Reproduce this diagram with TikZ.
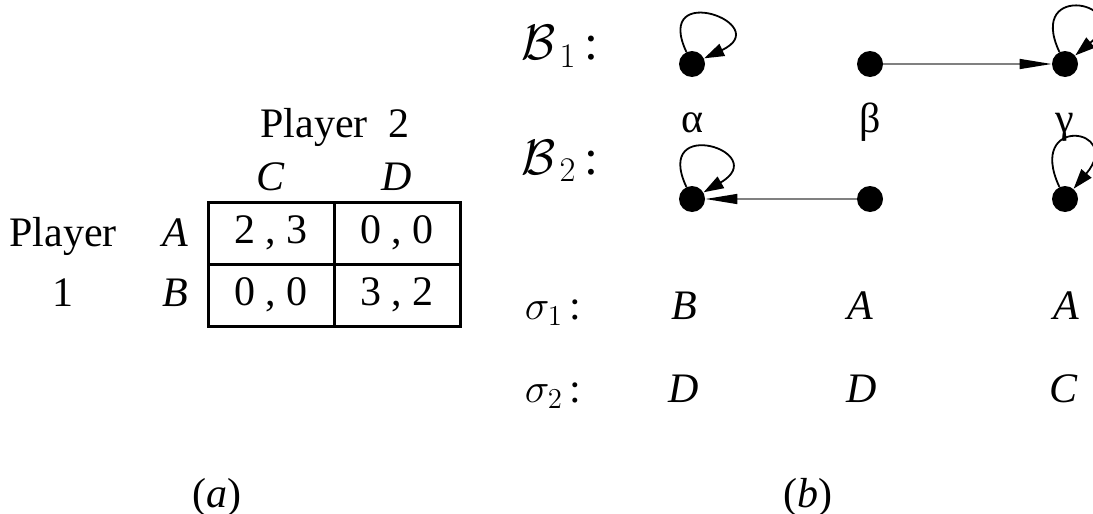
\documentclass[tikz,border=0pt]{standalone}
\usepackage{fontspec}
\setmainfont{Liberation Serif}
\usepackage{tikz}
\usetikzlibrary{arrows.meta,positioning,calc}

\begin{document}
\begin{tikzpicture}[x=0.5pt,y=-0.5pt,
  txt/.style={font=\fontsize{21}{25}\selectfont,inner sep=0pt,anchor=base},
  cell/.style={draw,line width=1.5pt,minimum width=63pt,minimum height=31pt,
    inner sep=0pt,font=\fontsize{21}{25}\selectfont},
  st/.style={circle,fill=black,minimum size=13pt,inner sep=0pt},
  lp/.style={line width=0.9pt,-{Triangle[length=10pt,width=6.5pt]}},
  ed/.style={gray,line width=0.7pt,-{Triangle[length=16pt,width=5pt,color=black]}},
  bl/.style={font=\fontsize{25}{30}\selectfont,inner sep=0pt,anchor=base east},
  sl/.style={font=\fontsize{21}{25}\selectfont,inner sep=0pt,anchor=base east}
]
\useasboundingbox (0,0) rectangle (1093,514);
% (a): the game
\node[txt] (p2) at (335,137) {Player\ \ 2};
\node[txt] (cc) at (271,190) {\textit{C}};
\node[txt] (cd) at (397,190) {\textit{D}};
\node[cell] (ac) at (271,233) {2 , 3};
\node[cell] (ad) at (397,233) {0 , 0};
\node[cell] (bc) at (271,295) {0 , 0};
\node[cell] (bd) at (397,295) {3 , 2};
\node[txt] (ra) at (175,246) {\textit{A}};
\node[txt] (rb) at (175,306) {\textit{B}};
\node[txt] (p1) at (63,246) {Player};
\node[txt] (p1n) at (63,306) {1};
\node[txt] (capa) at (217,507) {(\textit{a})};
% (b): the two belief relations
\node[bl] (b1) at (599,60) {$\mathcal{B}_{\,1}$\,:};
\node[bl] (b2) at (599,174) {$\mathcal{B}_{\,2}$\,:};
\node[st] (a1) at (692,64) {};
\node[st] (e1) at (870,64) {};
\node[st] (c1) at (1065,64) {};
\node[st] (a2) at (692,199) {};
\node[st] (e2) at (870,199) {};
\node[st] (c2) at (1065,199) {};
\draw[lp] (a1) to[out=115,in=25,distance=40pt] (a1);
\draw[lp] (c1) to[out=115,in=40,distance=40pt] (c1);
\draw[lp] (a2) to[out=115,in=30,distance=40pt] (a2);
\draw[lp] (c2) to[out=115,in=50,distance=40pt] (c2);
\draw[ed] (e1) -- (c1);
\draw[ed] (e2) -- (a2);
\node[txt] (la) at (692,132) {α};
\node[txt] (le) at (870,132) {β};
\node[txt] (lc) at (1065,132) {γ};
\node[sl] (s1) at (582,319) {$\sigma_1$\,:};
\node[sl] (s2) at (582,402) {$\sigma_2$\,:};
\node[txt] (s1a) at (684,319) {\textit{B}};
\node[txt] (s1e) at (860,319) {\textit{A}};
\node[txt] (s1c) at (1066,319) {\textit{A}};
\node[txt] (s2a) at (684,402) {\textit{D}};
\node[txt] (s2e) at (862,402) {\textit{D}};
\node[txt] (s2c) at (1064,402) {\textit{C}};
\node[txt] (capb) at (808,507) {(\textit{b})};
\end{tikzpicture}
\end{document}
